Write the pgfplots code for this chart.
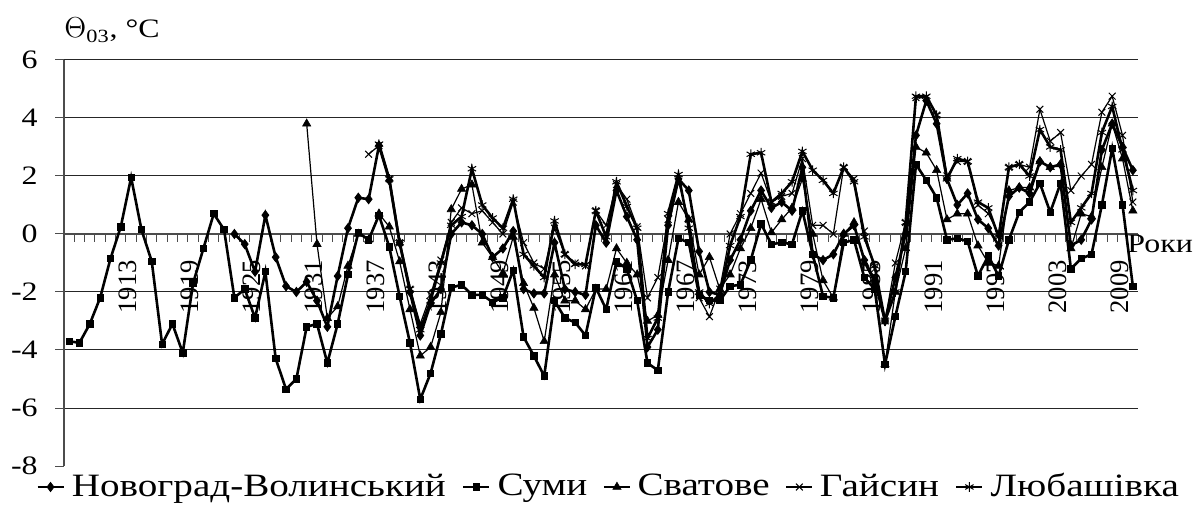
\documentclass[border=0pt]{standalone}
\usepackage{fontspec}
\setmainfont{Liberation Serif}[FakeStretch=1.2]
\newfontfamily\plainfont{Liberation Serif}
\usepackage{pgfplots}
\pgfplotsset{compat=1.18}
\begin{document}
\fontsize{13.3pt}{16pt}\selectfont
\begin{tikzpicture}
\useasboundingbox (-32pt,-19pt) rectangle (566.5pt,233pt);
\begin{axis}[
  at={(0,0)}, anchor=south west,
  scale only axis, width=537pt, height=203pt,
  xmin=1906.5, xmax=2010.5, ymin=-8, ymax=6,
  clip=false,
  axis x line*=middle, axis y line*=left,
  axis line style={draw=black!70, line width=0.6pt},
  xtick={1913,1919,1925,1931,1937,1943,1949,1955,1961,1967,1973,1979,1985,1991,1997,2003,2009},
  xticklabels={1913,1919,1925,1931,1937,1943,1949,1955,1961,1967,1973,1979,1985,1991,1997,2003,2009},
  minor xtick={1906.5,1907.5,...,2010.5},
  major x tick style={draw=none},
  minor x tick style={draw=black!70, line width=0.5pt},
  minor tick length=4pt,
  tick align=outside,
  every x tick label/.append style={font=\plainfont\fontsize{13.3pt}{14pt}\selectfont},
  xticklabel style={xshift=-1.5pt, rotate=90, anchor=east, inner sep=0pt},
  xticklabel shift=8.5pt,
  ytick={-6,-4,...,6},
  yticklabels={-6,-4,-2,0,2,4,6},
  extra y ticks={-8}, extra y tick labels={-8},
  extra y tick style={grid=none},
  ymajorgrids, grid style={draw=black!85, line width=0.5pt},
  y tick style={draw=black!70, line width=0.5pt},
  major tick length=4.5pt,
  yticklabel style={anchor=east, inner sep=0pt, xshift=-8.5pt},
  legend columns=5,
  legend style={draw=none, fill=none, at={(0.508,0)}, anchor=center, yshift=-10.5pt,
    /tikz/every even column/.append style={column sep=6pt},
    /tikz/every odd column/.append style={column sep=1.5pt}, inner sep=0pt,
    font=\fontsize{16.3pt}{17pt}\selectfont},
  legend image code/.code={\draw[mark repeat=2,mark phase=2] plot coordinates {(0pt,0pt) (6.5pt,0pt) (13pt,0pt)};},
]
% Novograd-Volynskyi
\addplot[black, line width=1.3pt, mark=diamond*, mark size=2.3pt, mark options={solid, line width=0.4pt}] coordinates {
(1923,0.0)(1924,-0.35)(1925,-1.3)(1926,0.65)(1927,-0.8)(1928,-1.8)(1929,-2.0)(1930,-1.65)(1931,-2.3)(1932,-3.2)
(1933,-1.45)(1934,0.2)(1935,1.25)(1936,1.2)(1937,3.05)(1938,1.85)(1939,-0.3)(1940,-2.0)(1941,-3.5)(1942,-2.4)
(1943,-1.9)(1944,0.0)(1945,0.4)(1946,0.3)(1947,0.0)(1948,-0.8)(1949,-0.5)(1950,0.1)(1951,-1.9)(1952,-2.05)
(1953,-2.05)(1954,-0.3)(1955,-1.9)(1956,-2.0)(1957,-2.1)(1958,0.3)(1959,-0.3)(1960,1.5)(1961,0.6)(1962,-0.2)
(1963,-3.9)(1964,-3.3)(1965,0.3)(1966,1.9)(1967,1.5)(1968,-0.6)(1969,-2.0)(1970,-2.1)(1971,-0.9)(1972,-0.2)
(1973,0.8)(1974,1.5)(1975,0.9)(1976,1.1)(1977,0.8)(1978,2.3)(1979,-0.7)(1980,-0.9)(1981,-0.7)(1982,0.0)
(1983,0.3)(1984,-0.9)(1985,-1.6)(1986,-3.0)(1987,-1.5)(1988,0.0)(1989,3.4)(1990,4.6)(1991,3.8)(1992,1.9)
(1993,1.0)(1994,1.4)(1995,0.5)(1996,0.2)(1997,-0.4)(1998,1.3)(1999,1.6)(2000,1.4)(2001,2.5)(2002,2.3)
(2003,2.4)(2004,-0.4)(2005,-0.2)(2006,0.5)(2007,2.9)(2008,3.8)(2009,3.0)(2010,2.2)};
\addlegendentry{Новоград-Волинський}
% Sumy
\addplot[black, line width=1.3pt, mark=square*, mark size=1.6pt, mark options={solid, line width=0.4pt}] coordinates {
(1907,-3.7)(1908,-3.75)(1909,-3.1)(1910,-2.2)(1911,-0.85)(1912,0.25)(1913,1.95)(1914,0.15)(1915,-0.95)(1916,-3.8)
(1917,-3.1)(1918,-4.1)(1919,-1.7)(1920,-0.5)(1921,0.7)(1922,0.15)(1923,-2.2)(1924,-1.9)(1925,-2.9)(1926,-1.3)
(1927,-4.3)(1928,-5.35)(1929,-5.0)(1930,-3.2)(1931,-3.1)(1932,-4.45)(1933,-3.1)(1934,-1.4)(1935,0.05)(1936,-0.2)
(1937,0.65)(1938,-0.45)(1939,-2.15)(1940,-3.75)(1941,-5.7)(1942,-4.8)(1943,-3.45)(1944,-1.85)(1945,-1.75)(1946,-2.1)
(1947,-2.1)(1948,-2.35)(1949,-2.2)(1950,-1.25)(1951,-3.55)(1952,-4.2)(1953,-4.9)(1954,-2.3)(1955,-2.9)(1956,-3.05)
(1957,-3.5)(1958,-1.85)(1959,-2.6)(1960,-0.95)(1961,-1.2)(1962,-2.3)(1963,-4.45)(1964,-4.7)(1965,-2.0)(1966,-0.15)
(1967,-0.3)(1968,-2.1)(1969,-2.3)(1970,-2.3)(1971,-1.8)(1972,-1.75)(1973,-0.9)(1974,0.35)(1975,-0.35)(1976,-0.3)
(1977,-0.35)(1978,0.8)(1979,-0.7)(1980,-2.15)(1981,-2.2)(1982,-0.3)(1983,-0.2)(1984,-1.5)(1985,-1.9)(1986,-4.5)
(1987,-2.85)(1988,-1.3)(1989,2.4)(1990,1.85)(1991,1.25)(1992,-0.2)(1993,-0.15)(1994,-0.25)(1995,-1.45)(1996,-0.75)
(1997,-1.45)(1998,-0.2)(1999,0.75)(2000,1.1)(2001,1.75)(2002,0.75)(2003,1.75)(2004,-1.2)(2005,-0.85)(2006,-0.7)
(2007,1.0)(2008,2.95)(2009,1.0)(2010,-1.8)};
\addlegendentry{Суми}
% Svatove
\addplot[black, line width=0.6pt, mark=triangle*, mark size=2.4pt, mark options={solid, line width=0.3pt}] coordinates {
(1930,3.8)(1931,-0.35)(1932,-2.9)(1933,-2.5)(1934,-1.1)(1935,0.0)(1936,-0.2)(1937,0.7)(1938,0.25)(1939,-0.95)
(1940,-2.6)(1941,-4.2)(1942,-3.9)(1943,-2.7)(1944,0.85)(1945,1.55)(1946,1.7)(1947,-0.3)(1948,-0.8)(1949,-1.35)
(1950,-0.1)(1951,-1.7)(1952,-2.55)(1953,-3.7)(1954,-1.4)(1955,-2.3)(1956,-2.3)(1957,-2.6)(1958,-1.9)(1959,-1.9)
(1960,-0.5)(1961,-1.0)(1962,-1.4)(1963,-3.0)(1964,-2.8)(1965,-0.9)(1966,1.1)(1967,0.5)(1968,-1.4)(1969,-0.8)
(1970,-1.9)(1971,-1.4)(1972,-0.5)(1973,0.2)(1974,1.2)(1975,0.05)(1976,0.5)(1977,0.9)(1978,1.9)(1979,0.0)
(1980,-1.6)(1981,-2.2)(1982,0.0)(1983,0.4)(1984,-1.0)(1985,-1.7)(1986,-4.5)(1987,-2.0)(1988,-0.5)(1989,3.0)
(1990,2.8)(1991,2.2)(1992,0.5)(1993,0.7)(1994,0.7)(1995,-0.4)(1996,-1.0)(1997,-1.1)(1998,1.5)(1999,1.6)
(2000,1.6)(2001,2.5)(2002,2.3)(2003,2.4)(2004,-0.5)(2005,0.7)(2006,0.6)(2007,2.3)(2008,3.8)(2009,2.6)(2010,0.8)};
\addlegendentry{Сватове}
% Haisyn
\addplot[black, line width=0.6pt, mark=x, mark size=2.4pt, mark options={solid, line width=0.5pt}] coordinates {
(1936,2.75)(1937,3.05)(1938,1.9)(1939,-0.3)(1940,-1.9)(1941,-3.1)(1942,-2.1)(1943,-0.9)(1944,0.4)(1945,0.9)
(1946,0.7)(1947,0.8)(1948,0.4)(1949,0.0)(1950,1.1)(1951,-0.3)(1952,-1.0)(1953,-1.2)(1954,0.2)(1955,-0.7)
(1956,-1.0)(1957,-1.1)(1958,0.8)(1959,0.3)(1960,1.7)(1961,1.2)(1962,0.25)(1963,-2.2)(1964,-1.5)(1965,0.5)
(1966,1.8)(1967,0.5)(1968,-2.2)(1969,-2.85)(1970,-1.9)(1971,0.0)(1972,0.7)(1973,1.4)(1974,2.1)(1975,1.1)
(1976,1.3)(1977,1.4)(1978,2.6)(1979,0.3)(1980,0.3)(1981,0.0)(1982,2.3)(1983,1.9)(1984,0.1)(1985,-1.2)
(1986,-3.0)(1987,-1.0)(1988,0.4)(1989,4.7)(1990,4.7)(1991,4.1)(1992,2.0)(1993,2.5)(1994,2.5)(1995,1.0)
(1996,0.7)(1997,0.0)(1998,2.3)(1999,2.4)(2000,2.3)(2001,4.3)(2002,3.2)(2003,3.5)(2004,1.5)(2005,2.0)
(2006,2.4)(2007,4.2)(2008,4.75)(2009,3.4)(2010,1.1)};
\addlegendentry{Гайсин}
% Liubashivka
\addplot[black, line width=1.3pt, mark=asterisk, mark size=2.4pt, mark options={solid, line width=0.5pt}] coordinates {
(1937,3.1)(1938,1.9)(1939,-0.3)(1940,-1.9)(1941,-3.3)(1942,-2.3)(1943,-1.0)(1944,0.3)(1945,0.6)(1946,2.25)
(1947,1.0)(1948,0.55)(1949,0.2)(1950,1.2)(1951,-0.7)(1952,-1.1)(1953,-1.5)(1954,0.45)(1955,-0.7)(1956,-1.05)
(1957,-1.05)(1958,0.8)(1959,-0.1)(1960,1.8)(1961,0.95)(1962,0.2)(1963,-3.6)(1964,-2.9)(1965,0.7)(1966,2.05)
(1967,0.2)(1968,-2.0)(1969,-2.4)(1970,-2.1)(1971,-0.4)(1972,0.6)(1973,2.75)(1974,2.8)(1975,1.1)(1976,1.4)
(1977,1.8)(1978,2.85)(1979,2.2)(1980,1.85)(1981,1.4)(1982,2.3)(1983,1.8)(1984,-0.1)(1985,-1.1)(1986,-3.0)
(1987,-2.0)(1988,0.4)(1989,4.75)(1990,4.75)(1991,4.1)(1992,1.9)(1993,2.6)(1994,2.5)(1995,1.1)(1996,0.9)
(1997,-0.1)(1998,2.3)(1999,2.4)(2000,2.0)(2001,3.6)(2002,3.0)(2003,2.9)(2004,0.4)(2005,0.9)(2006,1.4)
(2007,3.5)(2008,4.4)(2009,2.9)(2010,1.5)};
\addlegendentry{Любашівка}
\node[anchor=base west, inner sep=0pt] at (rel axis cs:0,1) [yshift=11pt] {$\Theta$\textsubscript{03}, °C};
\node[anchor=base west, inner sep=0pt] at (axis cs:2010.5,0) [xshift=-5.5pt, yshift=-9.5pt] {Роки};
\end{axis}
\end{tikzpicture}
\end{document}
